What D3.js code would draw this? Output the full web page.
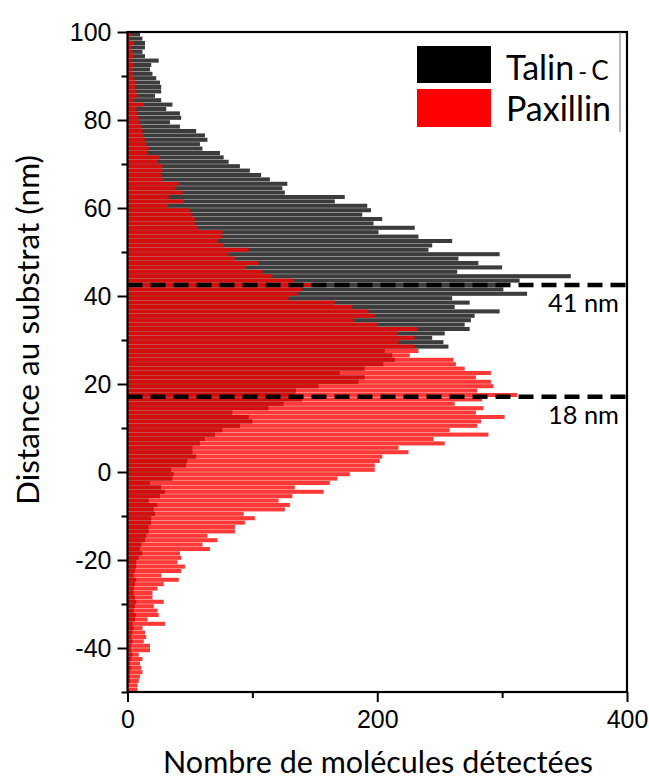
<!DOCTYPE html>
<html><head><meta charset="utf-8">
<script src="https://cdn.jsdelivr.net/npm/d3@7/dist/d3.min.js"></script>
<style>body{margin:0;background:#fff}svg{display:block}</style>
</head><body>
<svg id="c" width="649" height="780"></svg>
<script>
// lower edge (nm) of each 1-nm bin, from the top of the chart to the bottom
const binStart = [99,98,97,96,95,94,93,92,91,90,89,88,87,86,85,84,83,82,81,80,79,78,77,76,75,74,73,72,71,70,69,68,67,66,65,64,63,62,61,60,59,58,57,56,55,54,53,52,51,50,49,48,47,46,45,44,43,42,41,40,39,38,37,36,35,34,33,32,31,30,29,28,27,26,25,24,23,22,21,20,19,18,17,16,15,14,13,12,11,10,9,8,7,6,5,4,3,2,1,0,-1,-2,-3,-4,-5,-6,-7,-8,-9,-10,-11,-12,-13,-14,-15,-16,-17,-18,-19,-20,-21,-22,-23,-24,-25,-26,-27,-28,-29,-30,-31,-32,-33,-34,-35,-36,-37,-38,-39,-40,-41,-42,-43,-44,-45,-46,-47,-48,-49,-50];

const talinC = [10,12,14,14,12,14,25,19,18,20,23,26,27,27,22,27,36,31,42,43,34,42,55,62,64,58,60,
  74,77,81,90,98,107,114,128,124,126,
  174,166,192,195,188,204,197,230,201,233,260,244,241,298,265,281,300,264,355,314,305,301,320,260,274,262,298,278,275,270,274,254,244,253,257,
  206,212,214,205,190,170,190,185,153,135,134,140,125,113,84,97,100,90,76,70,62,58,52,52,55,48,47,35,37,36,18,27,30,26,17,24,21,22,19,19,17,17,
  15,14,11,10,12,9,7,7,6,5,7,6,5,5,6,7,6,5,7,6,4,5,4,3,4,3,3,4,3,2,3,2,2,2,1,1];

const paxillin = [3,2,5,3,4,5,3,5,4,4,5,6,6,7,8,5,13,7,8,9,10,11,12,13,14,15,17,16,26,24,28,28,27,28,41,38,44,33,45,32,50,52,54,54,56,
  76,76,72,77,97,81,86,105,95,108,116,133,153,140,136,129,166,180,193,198,181,200,232,216,230,217,230,233,226,261,
  263,270,291,279,291,293,280,312,284,262,285,279,302,283,280,258,289,245,254,217,225,204,202,198,198,178,168,162,134,157,132,121,130,126,93,102,94,86,86,64,
  72,60,66,42,43,40,46,43,27,41,29,24,20,20,29,21,24,25,16,30,12,14,15,13,18,18,9,12,10,11,12,10,9,8,8];

const yTicks = [-40,-20,0,20,40,60,80,100];
const yMinor = [-50,-30,-10,10,30,50,70,90];
const xTicks = [0,200,400];
const xMinor = [100,300];
const markers = [{value:42.5,label:"41 nm"},{value:17.1,label:"18 nm"}];
const seriesNames = ["Talin","Paxillin"];

const svg = d3.select("#c");
const L = 127.5, R = 627, T = 32, B = 692;
const x = d3.scaleLinear().domain([0,400]).range([L,R]);
const y = d3.scaleLinear().domain([-50,100]).range([B,T]);

const gap = 0.35;
const g = svg.append("g");
g.selectAll("rect.t").data(binStart).join("rect").attr("class","t")
  .attr("x", x(0)).attr("y", d => y(d+1)+gap/2)
  .attr("width", (d,i) => x(talinC[i]) - x(0))
  .attr("height", d => y(d)-y(d+1)-gap)
  .attr("fill","#3c3c3c");
g.selectAll("rect.p").data(binStart).join("rect").attr("class","p")
  .attr("x", x(0)).attr("y", d => y(d+1)+gap/2)
  .attr("width", (d,i) => x(paxillin[i]) - x(0))
  .attr("height", d => y(d)-y(d+1)-gap)
  .attr("fill","#ff0000").attr("fill-opacity",0.78);

const lf = "Lato, 'Open Sans', sans-serif";
// dashed markers
markers.forEach(m => {
  svg.append("line").attr("x1",x(0)).attr("x2",R).attr("y1",y(m.value)).attr("y2",y(m.value))
    .attr("stroke","#000").attr("stroke-width",4.5).attr("stroke-dasharray","15,8");
  const t = svg.append("text").attr("x",548).attr("y",y(m.value)+27).text(m.label)
    .attr("font-family",lf).attr("font-size",22).attr("fill","#000");
  const l = t.node().getComputedTextLength(); t.attr("font-size", 22*71/l);
});

// axes
const tickFont = "'Liberation Sans', Arial, sans-serif";
svg.append("g").attr("transform",`translate(${L},0)`)
  .call(d3.axisLeft(y).tickValues(yTicks).tickSize(10).tickPadding(6).tickFormat(d => String(d)));
svg.append("g").attr("transform",`translate(${L},0)`)
  .call(d3.axisLeft(y).tickValues(yMinor).tickSize(6).tickFormat(""));
svg.append("g").attr("transform",`translate(0,${B})`)
  .call(d3.axisBottom(x).tickValues(xTicks).tickSize(10).tickPadding(8).tickFormat(d => String(d)));
svg.append("g").attr("transform",`translate(0,${B})`)
  .call(d3.axisBottom(x).tickValues(xMinor).tickSize(6).tickFormat(""));
svg.selectAll(".domain").remove();
svg.selectAll(".tick line").attr("stroke","#000").attr("stroke-width",2);
svg.selectAll(".tick text").attr("font-family",tickFont).attr("font-size",25).attr("fill","#000");

// frame
svg.append("rect").attr("x",L).attr("y",T).attr("width",R-L).attr("height",B-T)
  .attr("fill","none").attr("stroke","#000").attr("stroke-width",2.2);

// legend
const lg = svg.append("g");
lg.append("line").attr("x1",620).attr("x2",620).attr("y1",T).attr("y2",132).attr("stroke","#777").attr("stroke-width",1);
lg.append("rect").attr("x",417).attr("y",46).attr("width",74).attr("height",37).attr("fill","#000");
lg.append("rect").attr("x",417).attr("y",89).attr("width",74).attr("height",38).attr("fill","#ff0000");
const t1 = lg.append("text").attr("x",506).attr("y",80).attr("font-family",lf).attr("font-size",34).attr("fill","#000");
t1.append("tspan").text(seriesNames[0]);
t1.append("tspan").attr("font-size",24).attr("dx",4).text("-");
t1.append("tspan").attr("font-size",26).attr("dx",4).text("C");
lg.append("text").attr("x",506).attr("y",121).attr("font-family",lf).attr("font-size",34).attr("fill","#000").text(seriesNames[1]);

// axis titles
const xt = svg.append("text").attr("x",(163+593)/2).attr("y",773).attr("text-anchor","middle")
  .attr("font-family",lf).attr("font-size",26).attr("fill","#000").text("Nombre de molécules détectées");
const yt = svg.append("text").attr("transform","translate(39,330) rotate(-90)").attr("text-anchor","middle")
  .attr("font-family",lf).attr("font-size",26).attr("fill","#000").text("Distance au substrat (nm)");
function fit(sel, w){ const l = sel.node().getComputedTextLength(); sel.attr("font-size", 26*w/l); }
fit(xt, 430); fit(yt, 350);
</script>
</body></html>
